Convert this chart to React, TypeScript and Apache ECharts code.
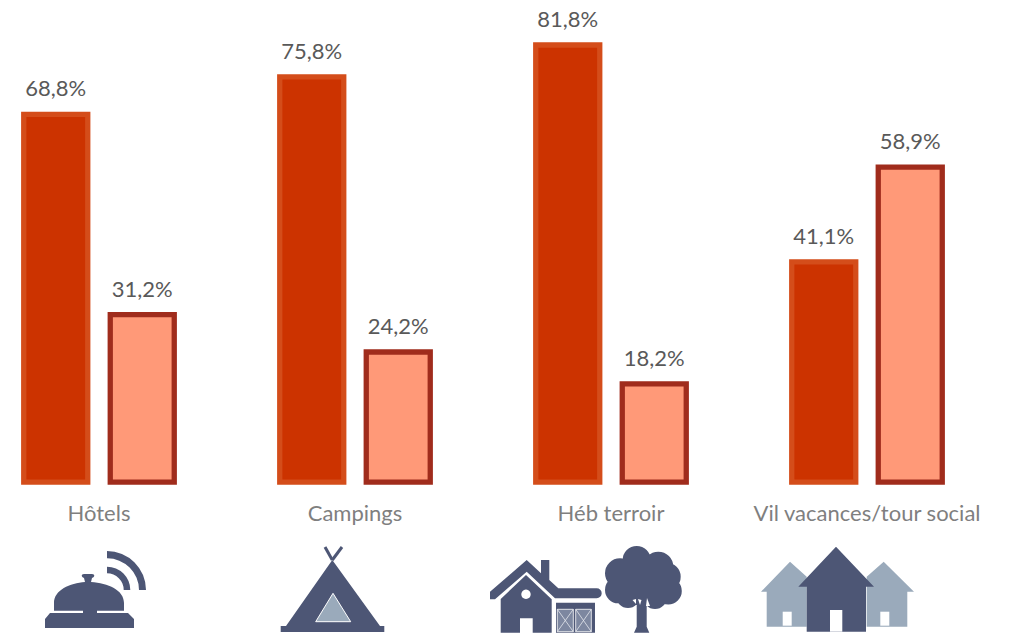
import React, { useEffect, useRef } from "react";
import * as echarts from "echarts";

const categories = ["Hôtels", "Campings", "Héb terroir", "Vil vacances/tour social"];
const seriesA = [68.8, 75.8, 81.8, 41.1];
const seriesB = [31.2, 24.2, 18.2, 58.9];
const AXIS_MIN = -1.2;
const AXIS_MAX = 88;

const DARK = "#4d5675";
const LIGHT = "#9aaabb";
const BAR_WIDTH = 69.3;
const BORDER = 5.3;

const circle = (cx: number, cy: number, r: number) =>
  `M${cx - r} ${cy}A${r} ${r} 0 1 1 ${cx + r} ${cy}A${r} ${r} 0 1 1 ${cx - r} ${cy}Z`;

const bellPath =
  "M45 619L50 613L83 613L83 610.7L54 610.7L54 603C54 590 70 583 85 582L84 578C81 577 81 574 84 574L92 574C95 574 95 577 92 578L91 582C108 583 124 590 124 603L124 610.7L97 610.7L97 613L128 613L134 619L134 628L45 628Z" +
  "M107 551A39 39 0 0 1 146 590L139 590A31.7 31.7 0 0 0 107 558.3Z" +
  "M107 566.7A23.3 23.3 0 0 1 130.3 590L123.7 590A16.7 16.7 0 0 0 107 573.3Z";
const tentPath =
  "M332.3 560L380 626L384.3 626L384.3 632L280.7 632L280.7 626L286 626Z";
const housePath =
  "M490 591.7L526.7 560L541 573.3L541 560L549.3 560L549.3 580L558.3 588.3L596.7 588.3A5 5 0 0 1 596.7 598.3L555 598.3L526.7 571.7L495 599.3L490 599.3Z" +
  "M500.7 599L526 575L551.7 599.3L551.7 632.7L532.7 632.7L532.7 618.3L520 618.3L520 632.7L500.7 632.7Z" +
  "M556 602.7L595 602.7L595 632.7L556 632.7Z";
const treePath =
  circle(636.7, 560, 14) + circle(658.3, 566.7, 15) + circle(666.7, 576.7, 14) +
  circle(668.3, 591, 13.5) + circle(655, 597, 12) + circle(620, 573.3, 15) +
  circle(618.3, 590, 13.3) + circle(628, 596, 12) + circle(643.3, 580, 26) +
  "M636.7 600L646.7 600L646.7 626.7L649.3 632.7L634 632.7L636.7 626.7Z";
const backHousesPath =
  "M790 561.7L806.7 576.7L806.7 626.7L766.7 626.7L766.7 591.7L761 591.7Z" +
  "M883.7 561.7L914 591.7L907.3 591.7L907.3 626.7L866.7 626.7L866.7 576.7Z";
const frontHousePath =
  "M836 546.7L874 586.7L866 586.7L866 631.7L806.7 631.7L806.7 586.7L798.3 586.7Z";

echarts.graphic.registerShape("bellIcon", echarts.graphic.extendPath(bellPath, {}));
echarts.graphic.registerShape("tentIcon", echarts.graphic.extendPath(tentPath, {}));
echarts.graphic.registerShape("houseIcon", echarts.graphic.extendPath(housePath, {}));
echarts.graphic.registerShape("treeIcon", echarts.graphic.extendPath(treePath, {}));
echarts.graphic.registerShape("backIcon", echarts.graphic.extendPath(backHousesPath, {}));
echarts.graphic.registerShape("frontIcon", echarts.graphic.extendPath(frontHousePath, {}));

const icon = (type: string, fill: string) => ({ type, x: 0, y: 0, silent: true, style: { fill } });
const poly = (points: number[][], fill: string, stroke?: string, lineWidth = 1) => ({
  type: "polygon", silent: true, shape: { points }, style: { fill, stroke, lineWidth },
});
const line = (x1: number, y1: number, x2: number, y2: number, stroke: string, lineWidth: number) => ({
  type: "line", silent: true, shape: { x1, y1, x2, y2 }, style: { stroke, lineWidth },
});
const barnDoor = (x1: number, x2: number) => [
  poly([[x1, 609.3], [x2, 609.3], [x2, 631.7], [x1, 631.7]], "#7d87a0", "#ffffff", 0.8),
  line(x1, 609.3, x2, 631.7, "#e4e7ee", 0.8),
  line(x2, 609.3, x1, 631.7, "#e4e7ee", 0.8),
];

// Bars run from the bottom of the axis to their value, as in the reference,
// where the base of each bar sits a little below the zero of the scale.
const barSeries = (values: number[], offset: number, fill: string, stroke: string) => ({
  type: "custom",
  data: values.map((v, i) => [i, v]),
  encode: { x: 0, y: 1 },
  clip: false,
  renderItem: (_: any, api: any) => {
    const i = api.value(0);
    const v = api.value(1);
    const [cx, top] = api.coord([i, v]);
    const [, bottom] = api.coord([i, AXIS_MIN]);
    const left = cx + offset - BAR_WIDTH / 2;
    return {
      type: "group",
      children: [
        {
          type: "rect",
          shape: {
            x: left + BORDER / 2,
            y: top + BORDER / 2,
            width: BAR_WIDTH - BORDER,
            height: bottom - top - BORDER,
          },
          style: { fill, stroke, lineWidth: BORDER },
        },
        {
          type: "text",
          style: {
            text: `${v.toFixed(1).replace(".", ",")}%`,
            x: left + BAR_WIDTH / 2,
            y: top - 13,
            align: "center",
            verticalAlign: "bottom",
            fill: "#595959",
            fontFamily: "Lato",
            fontSize: 22,
          },
        },
      ],
    };
  },
});

export default function App() {
  const ref = useRef<HTMLDivElement>(null);
  useEffect(() => {
    const chart = echarts.init(ref.current!, null, { renderer: "svg" });
    chart.setOption({
      animation: false,
      backgroundColor: "#ffffff",
      grid: { left: -29, width: 1024, top: 9.3, height: 475.4, outerBoundsMode: "none" },
      xAxis: {
        type: "category",
        data: categories,
        axisLine: { show: false },
        axisTick: { show: false },
        axisLabel: { color: "#7f7f7f", fontFamily: "Lato", fontSize: 22, margin: 17, interval: 0 },
      },
      yAxis: { type: "value", min: AXIS_MIN, max: AXIS_MAX, show: false },
      series: [
        barSeries(seriesA, -43.25, "#cc3300", "#d44d1a"),
        barSeries(seriesB, 43.25, "#ff9978", "#a02c1c"),
      ],
      graphic: [
        icon("bellIcon", DARK),
        line(325, 547, 332.3, 560, DARK, 3),
        line(342, 547, 332.3, 560, DARK, 3),
        icon("tentIcon", DARK),
        poly([[333, 593.3], [315.7, 621.7], [350.7, 621.7]], LIGHT, "#ffffff", 1),
        icon("houseIcon", DARK),
        { type: "circle", silent: true, shape: { cx: 526, cy: 594.3, r: 4.7 }, style: { fill: "#ffffff" } },
        ...barnDoor(557.3, 573.3),
        ...barnDoor(575.7, 591.3),
        icon("treeIcon", DARK),
        poly([[632.5, 600], [636, 599], [636, 604]], "#ffffff"),
        poly([[638, 599], [641.5, 600], [640, 605]], "#ffffff"),
        poly([[647, 598], [650, 606], [646, 606]], "#ffffff"),
        icon("backIcon", LIGHT),
        poly([[782.7, 611.7], [791.7, 611.7], [791.7, 625.7], [782.7, 625.7]], "#ffffff"),
        poly([[880.3, 611.7], [889.3, 611.7], [889.3, 625.7], [880.3, 625.7]], "#ffffff"),
        icon("frontIcon", DARK),
        poly([[830, 610], [842.3, 610], [842.3, 631.7], [830, 631.7]], "#ffffff"),
      ],
    });
    return () => chart.dispose();
  }, []);
  return <div ref={ref} style={{ position: "absolute", left: 0, top: 0, width: 1010, height: 633 }} />;
}
